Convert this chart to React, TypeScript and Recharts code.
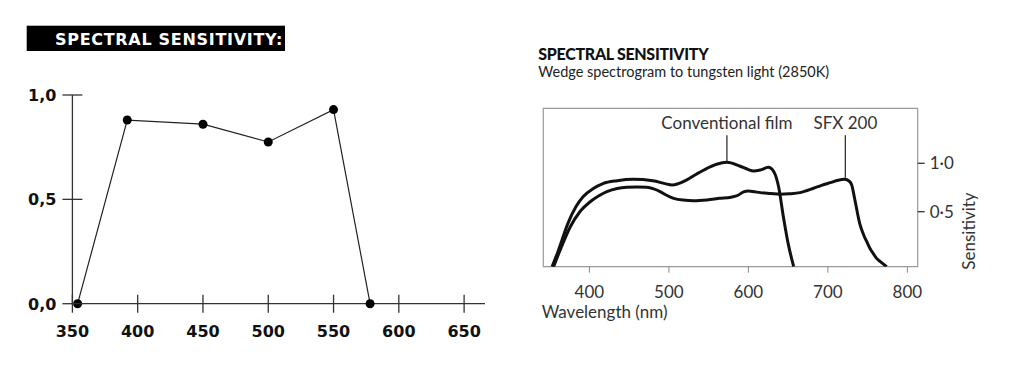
import { LineChart, Line, XAxis, YAxis, ReferenceArea, ReferenceLine, ReferenceDot } from 'recharts';

// left chart: measured points
const leftWavelengths = [354, 392, 450, 500, 550, 578];
const leftSensitivity = [0, 0.88, 0.86, 0.775, 0.93, 0];
const leftXTicks = [350, 400, 450, 500, 550, 600, 650];
const leftYTicks = [0, 0.5, 1];

// right chart: wedge spectrogram curves
const conventionalWl = [353, 361, 373, 383, 392, 405, 417, 435, 455, 480, 495, 504, 512, 522, 535, 548, 560, 573, 589, 600, 606, 615, 625, 632, 638, 644, 650, 657];
const conventionalSens = [-0.068, 0.1, 0.38, 0.55, 0.655, 0.74, 0.79, 0.82, 0.834, 0.82, 0.79, 0.776, 0.79, 0.826, 0.89, 0.948, 0.99, 1.01, 0.972, 0.935, 0.92, 0.93, 0.958, 0.913, 0.758, 0.449, 0.173, -0.068];
const sfxWl = [355, 363, 376, 388, 401, 412, 422, 435, 447, 460, 472, 481, 489, 497, 506, 518, 531, 548, 564, 578, 587, 594, 600, 608, 615, 628, 640, 652, 665, 682, 692, 703, 713, 721, 727, 730, 734, 740, 745, 749, 753, 757, 761, 766, 774];
const sfxSens = [-0.068, 0.1, 0.345, 0.5, 0.603, 0.665, 0.707, 0.74, 0.752, 0.755, 0.752, 0.735, 0.707, 0.67, 0.638, 0.62, 0.614, 0.622, 0.638, 0.65, 0.67, 0.705, 0.714, 0.705, 0.697, 0.688, 0.68, 0.685, 0.697, 0.742, 0.772, 0.8, 0.825, 0.834, 0.815, 0.776, 0.621, 0.38, 0.26, 0.19, 0.12, 0.07, 0.02, -0.016, -0.068];
const rightXTicks = [400, 500, 600, 700, 800];
const rightYTicks = [0.5, 1];

// callout labels: name, wavelength, line bottom, line top
const calloutNames = ['Conventional film', 'SFX 200'];
const calloutWl = [573, 722];
const calloutFrom = [1.02, 0.85];
const calloutTo = [1.29, 1.29];

const leftData = leftWavelengths.map((wl, i) => ({ wl, s: leftSensitivity[i] }));
const conventionalData = conventionalWl.map((wl, i) => ({ wl, s: conventionalSens[i] }));
const sfxData = sfxWl.map((wl, i) => ({ wl, s: sfxSens[i] }));

const boldFont = 'DejaVu Sans';
const lightFont = 'Lato';

const LeftXTick = ({ x, y, payload }: any) => (
  <g>
    <line x1={x} x2={x} y1={y - 9} y2={y + 9} stroke="#333" strokeWidth={1.3} />
    <text x={x} y={y + 33} textAnchor="middle" fontFamily={boldFont} fontWeight="bold" fontSize={16} fill="#111">
      {payload.value}
    </text>
  </g>
);

const LeftYTick = ({ x, y, payload }: any) => (
  <g>
    <line x1={x - 10} x2={x + 10} y1={y} y2={y} stroke="#333" strokeWidth={1.3} />
    <text x={x - 16} y={y + 6} textAnchor="end" fontFamily={boldFont} fontWeight="bold" fontSize={16} fill="#111">
      {payload.value.toFixed(1).replace('.', ',')}
    </text>
  </g>
);

const RightXTick = ({ x, y, payload }: any) => (
  <text x={x} y={y + 25.5} textAnchor="middle" fontFamily={lightFont} fontSize={17} fill="#333">
    {payload.value}
  </text>
);

const RightYTick = ({ x, y, payload }: any) => (
  <text x={x + 5} y={y + 6} textAnchor="start" fontFamily={lightFont} fontSize={17} fill="#333">
    {payload.value.toFixed(1).replace('.', '\u00b7')}
  </text>
);

export default function App() {
  return (
    <div style={{ position: 'absolute', left: 0, top: 0, width: 1024, height: 366, background: '#fff' }}>
      <svg width={1024} height={366} style={{ position: 'absolute', left: 0, top: 0 }}>
        <rect x={26.7} y={25.7} width={258.3} height={25.3} fill="#000" />
        <text x={55} y={45} fontFamily={boldFont} fontWeight="bold" fontSize={16} letterSpacing={0.7} fill="#fff">
          SPECTRAL SENSITIVITY:
        </text>
        <text x={538.3} y={60} fontFamily={lightFont} fontWeight={900} fontSize={16} letterSpacing={-0.3} fill="#111">
          SPECTRAL SENSITIVITY
        </text>
        <text x={538.3} y={77.3} fontFamily={lightFont} fontSize={14.5} fill="#222">
          Wedge spectrogram to tungsten light (2850K)
        </text>
        <text x={541.7} y={317.7} fontFamily={lightFont} fontSize={17} fill="#333">
          Wavelength (nm)
        </text>
        <text x={975} y={231} transform="rotate(-90 975 231)" textAnchor="middle" fontFamily={lightFont} fontSize={17} fill="#333">
          Sensitivity
        </text>
      </svg>

      <LineChart
        width={520}
        height={366}
        data={leftData}
        margin={{ top: 95, right: 35, bottom: 32.3, left: 12.4 }}
        style={{ position: 'absolute', left: 0, top: 0 }}
      >
        <XAxis
          dataKey="wl"
          type="number"
          domain={[350, 666]}
          allowDataOverflow
          ticks={leftXTicks}
          height={30}
          tickSize={0}
          tickMargin={0}
          tickLine={false}
          axisLine={{ stroke: '#333', strokeWidth: 1.3 }}
          tick={<LeftXTick />}
          interval={0}
        />
        <YAxis
          type="number"
          domain={[0, 1]}
          ticks={leftYTicks}
          width={60}
          tickSize={0}
          tickMargin={0}
          tickLine={false}
          axisLine={{ stroke: '#333', strokeWidth: 1.3 }}
          tick={<LeftYTick />}
          interval={0}
        />
        <Line
          dataKey="s"
          stroke="#222"
          strokeWidth={1.2}
          dot={{ r: 4.5, fill: '#000', stroke: 'none' }}
          isAnimationActive={false}
        />
      </LineChart>

      <LineChart
        width={524}
        height={366}
        margin={{ top: 108.3, right: 46.3, bottom: 69.3, left: 43.3 }}
        style={{ position: 'absolute', left: 500, top: 0 }}
      >
        <XAxis
          dataKey="wl"
          type="number"
          domain={[342, 813]}
          allowDataOverflow
          ticks={rightXTicks}
          height={30}
          tickSize={6}
          tickMargin={0}
          tickLine={{ stroke: '#888', strokeWidth: 1 }}
          axisLine={false}
          tick={<RightXTick />}
          interval={0}
        />
        <YAxis
          orientation="right"
          type="number"
          domain={[-0.068, 1.568]}
          allowDataOverflow
          ticks={rightYTicks}
          width={60}
          tickSize={7}
          tickMargin={0}
          tickLine={{ stroke: '#333', strokeWidth: 1.3 }}
          axisLine={false}
          tick={<RightYTick />}
          interval={0}
        />
        <ReferenceArea x1={342} x2={813} y1={-0.068} y2={1.568} fill="none" stroke="#999" strokeWidth={1.2} />
        <Line data={conventionalData} dataKey="s" type="monotone" stroke="#111" strokeWidth={3} dot={false} isAnimationActive={false} />
        <Line data={sfxData} dataKey="s" type="monotone" stroke="#111" strokeWidth={3} dot={false} isAnimationActive={false} />
        {calloutNames.map((name, i) => (
          <ReferenceLine
            key={'l' + name}
            segment={[{ x: calloutWl[i], y: calloutFrom[i] }, { x: calloutWl[i], y: calloutTo[i] }]}
            stroke="#333"
            strokeWidth={1.3}
          />
        ))}
        {calloutNames.map((name, i) => (
          <ReferenceDot
            key={'d' + name}
            x={calloutWl[i]}
            y={calloutTo[i]}
            r={0}
            fill="none"
            stroke="none"
            label={{ value: name, position: 'top', offset: 6, fontFamily: lightFont, fontSize: 17, fill: '#333' }}
          />
        ))}
      </LineChart>
    </div>
  );
}
